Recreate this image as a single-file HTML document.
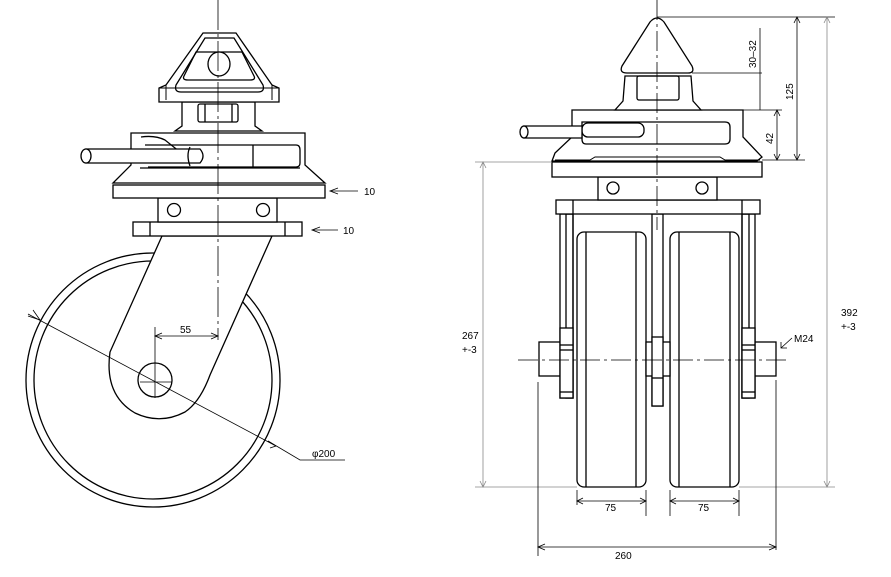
<!DOCTYPE html>
<html><head><meta charset="utf-8"><style>
html,body{margin:0;padding:0;background:#fff;width:891px;height:577px;overflow:hidden}
svg{display:block}
text{font-family:"Liberation Sans",sans-serif;font-size:10px;fill:#000}
</style></head><body>
<svg width="891" height="577" viewBox="0 0 891 577" xmlns="http://www.w3.org/2000/svg">
<g fill="none" stroke="#000" stroke-width="1.3">
<!-- LEFT VIEW -->
<circle cx="153" cy="380" r="127"/>
<circle cx="153" cy="380" r="119"/>
<path d="M162,236 L110,352 Q104,395 135,413 Q160,425 185,412 Q200,402 210,375 L272,236 Z" fill="#fff"/>
<circle cx="155" cy="380" r="17" fill="#fff"/>
<rect x="133" y="222" width="169" height="14" fill="#fff"/>
<line x1="150" y1="222" x2="150" y2="236"/><line x1="285" y1="222" x2="285" y2="236"/>
<rect x="158" y="198" width="119" height="24" fill="#fff"/>
<circle cx="174" cy="210" r="6.5"/><circle cx="263" cy="210" r="6.5"/>
<rect x="113" y="185" width="212" height="13" fill="#fff"/>
<path d="M131,133 L305,133 L305,165 L325,183 L113,183 L131,165 Z" fill="#fff"/>
<path d="M140,168 L300,168"/>
<path d="M145,145 L296,145 Q300,145 300,150 L300,163 Q300,167 296,167 L148,167"/>
<path d="M141,137 Q155,135 165,140 L180,152"/>
<line x1="253" y1="145" x2="253" y2="167"/>
<path d="M86,149 L200,149 Q206,156 200,163 L86,163 Z" fill="#fff"/>
<ellipse cx="86" cy="156" rx="5" ry="7" fill="#fff"/>
<path d="M190,147 Q186,155 190,166"/>
<path d="M182,102 L255,102 L255,126 L262,131 L175,131 L182,126 Z" fill="#fff"/>
<rect x="198" y="104" width="40" height="18" rx="2"/>
<line x1="205" y1="104" x2="205" y2="122"/><line x1="232" y1="104" x2="232" y2="122"/>
<path d="M203,33 L236,33 L272,85 L279,88 L279,102 L159,102 L159,88 L166,85 Z" fill="#fff"/>
<path d="M205,38 L234,38 L263,85 Q265,92 258,92 L181,92 Q174,92 176,85 Z"/>
<path d="M196,52 L242,52 L254,76 Q256,80 250,80 L188,80 Q182,80 184,76 Z"/>
<path d="M159,88 L279,88" stroke-width="1"/>
<path d="M166,85 L166,100 M272,85 L272,100" stroke-width="1"/>
<ellipse cx="219" cy="64" rx="11" ry="12" fill="#fff"/>
<g stroke-width="0.8">
<line x1="330" y1="191" x2="358" y2="191"/><path d="M338,188 L330,191 L338,194"/>
<line x1="312" y1="230" x2="338" y2="230"/><path d="M320,227 L312,230 L320,233"/>
<line x1="218" y1="0" x2="218" y2="340" stroke-dasharray="30,4,3,4"/>
<line x1="155" y1="327" x2="155" y2="398"/>
<line x1="155" y1="336" x2="218" y2="336"/>
<path d="M162,333 L155,336 L162,339 M211,333 L218,336 L211,339"/>
<line x1="140" y1="382" x2="172" y2="382"/>
<line x1="28" y1="314" x2="276" y2="446"/>
<path d="M268,441 L300,460 L345,460"/>
<path d="M33,310 L40,320 L28,316"/>
<path d="M268,441 L276,446 L270,448"/>
</g>

<!-- RIGHT VIEW -->
<rect x="577" y="232" width="69" height="255" rx="7" fill="#fff"/>
<line x1="586" y1="232" x2="586" y2="487"/><line x1="636" y1="232" x2="636" y2="487"/>
<rect x="670" y="232" width="69" height="255" rx="7" fill="#fff"/>
<line x1="679" y1="232" x2="679" y2="487"/><line x1="730" y1="232" x2="730" y2="487"/>
<rect x="560" y="214" width="13" height="184" fill="#fff"/>
<rect x="652" y="214" width="11" height="192" fill="#fff"/>
<rect x="742" y="214" width="13" height="184" fill="#fff"/>
<rect x="566" y="214" width="7" height="184"/>
<rect x="742" y="214" width="7" height="184"/>
<rect x="539" y="342" width="21" height="34" fill="#fff"/>
<rect x="755" y="342" width="21" height="34" fill="#fff"/>
<rect x="560" y="328" width="13" height="70" fill="#fff"/>
<rect x="742" y="328" width="13" height="70" fill="#fff"/>
<line x1="560" y1="345" x2="573" y2="345"/><line x1="560" y1="350" x2="573" y2="350"/>
<line x1="742" y1="345" x2="755" y2="345"/><line x1="742" y1="350" x2="755" y2="350"/>
<line x1="560" y1="392" x2="573" y2="392"/><line x1="742" y1="392" x2="755" y2="392"/>
<rect x="646" y="342" width="24" height="34" fill="#fff"/>
<rect x="652" y="337" width="11" height="69" fill="#fff"/>
<line x1="652" y1="378" x2="663" y2="378"/>
<rect x="556" y="200" width="204" height="14" fill="#fff"/>
<line x1="573" y1="200" x2="573" y2="214"/><line x1="742" y1="200" x2="742" y2="214"/>
<rect x="598" y="177" width="119" height="23" fill="#fff"/>
<circle cx="613" cy="188" r="6"/><circle cx="702" cy="188" r="6"/>
<rect x="552" y="162" width="210" height="15" fill="#fff"/>
<path d="M572,110 L743,110 L743,137 L762,157 L757,161 L552,161 L555,153 L572,137 Z" fill="#fff"/>
<path d="M555,160 L590,160 L595,157 L720,157 L725,160 L760,160" stroke-width="1"/>
<path d="M582,122 L725,122 Q730,122 730,127 L730,139 Q730,144 725,144 L586,144 Q582,144 582,139 Z"/>
<rect x="582" y="123" width="62" height="14" rx="6" fill="#fff"/>
<path d="M524,126 L582,126 L582,138 L524,138 Z" fill="#fff"/>
<ellipse cx="524" cy="132" rx="4" ry="6" fill="#fff"/>
<path d="M625,76 L691,76 L693,101 L701,110 L615,110 L623,101 Z" fill="#fff"/>
<rect x="637" y="76" width="42" height="24" rx="2"/>
<path d="M622,66 L650,22 Q657,14 664,22 L692,66 Q695,73 688,73 L627,73 Q619,73 622,66 Z" fill="#fff"/>
<g stroke-width="0.8">
<line x1="657" y1="0" x2="657" y2="230" stroke-dasharray="20,4,3,4"/>
<line x1="518" y1="360" x2="790" y2="360" stroke-dasharray="20,4,3,4"/>
<line x1="657" y1="17" x2="835" y2="17"/>
<line x1="692" y1="73" x2="762" y2="73"/>
<line x1="743" y1="110" x2="782" y2="110"/>
<line x1="762" y1="160" x2="805" y2="160"/>
<line x1="760" y1="28" x2="760" y2="110"/>
<line x1="777" y1="110" x2="777" y2="160"/>
<path d="M774,116 L777,110 L780,116 M774,154 L777,160 L780,154"/>
<line x1="797" y1="17" x2="797" y2="160"/>
<path d="M794,23 L797,17 L800,23 M794,154 L797,160 L800,154"/>
<line x1="827" y1="17" x2="827" y2="487" stroke="#888"/>
<path d="M824,23 L827,17 L830,23 M824,481 L827,487 L830,481" stroke="#888"/>
<line x1="475" y1="487" x2="577" y2="487" stroke="#888"/>
<line x1="739" y1="487" x2="835" y2="487" stroke="#888"/>
<line x1="483" y1="162" x2="483" y2="487" stroke="#888"/>
<path d="M480,168 L483,162 L486,168 M480,481 L483,487 L486,481" stroke="#888"/>
<line x1="475" y1="162" x2="552" y2="162" stroke="#888"/>
<line x1="577" y1="490" x2="577" y2="505"/>
<line x1="646" y1="490" x2="646" y2="516"/>
<line x1="670" y1="490" x2="670" y2="516"/>
<line x1="739" y1="490" x2="739" y2="516"/>
<line x1="577" y1="501" x2="646" y2="501"/><path d="M583,498 L577,501 L583,504 M640,498 L646,501 L640,504"/>
<line x1="670" y1="501" x2="739" y2="501"/><path d="M676,498 L670,501 L676,504 M733,498 L739,501 L733,504"/>
<line x1="538" y1="382" x2="538" y2="556"/>
<line x1="776" y1="380" x2="776" y2="550"/>
<line x1="538" y1="547" x2="776" y2="547"/><path d="M545,544 L538,547 L545,550 M769,544 L776,547 L769,550"/>
<path d="M792,338 L781,348 M781,342 L781,348 L787,348"/>
</g>
</g>
<text x="364" y="195">10</text>
<text x="343" y="234">10</text>
<text x="180" y="333" font-size="9">55</text>
<text x="312" y="457" font-size="9">φ200</text>
<text x="462" y="339" font-size="9">267</text>
<text x="462" y="353" font-size="9">+-3</text>
<text x="841" y="316">392</text>
<text x="841" y="330">+-3</text>
<text x="794" y="342" font-size="9">M24</text>
<text x="605" y="511" font-size="9">75</text>
<text x="698" y="511" font-size="9">75</text>
<text x="615" y="559" font-size="9">260</text>
<text transform="translate(756,68) rotate(-90)" font-size="11">30–32</text>
<text transform="translate(793,100) rotate(-90)" font-size="11">125</text>
<text transform="translate(773,144) rotate(-90)" font-size="11">42</text>
</svg>
</body></html>
